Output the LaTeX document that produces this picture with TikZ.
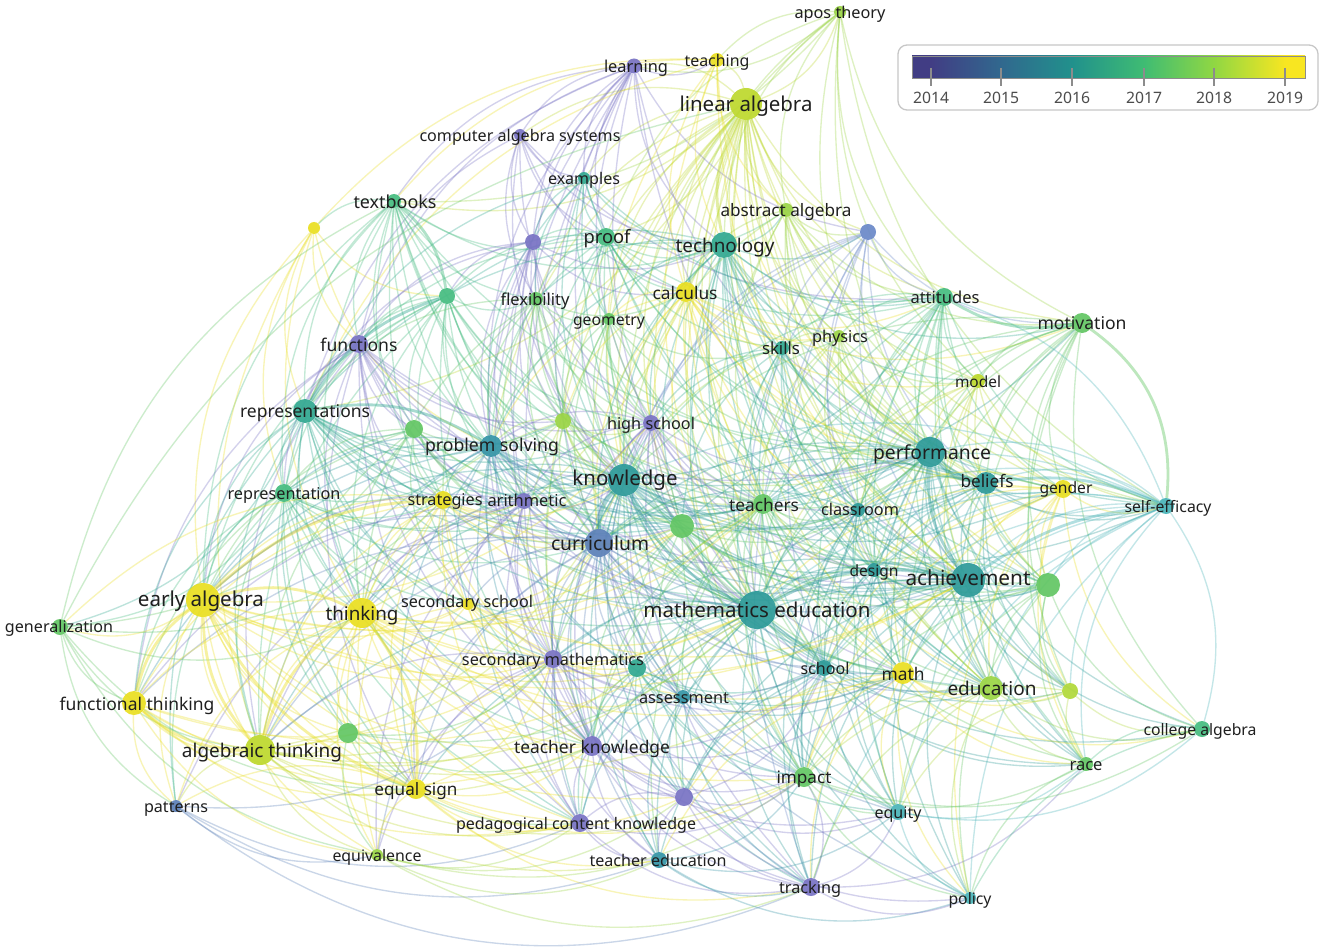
\documentclass[tikz,border=0pt]{standalone}
\usepackage{fontspec}
\setmainfont{Noto Sans}
\usepackage{graphicx}
\definecolor{k14}{HTML}{7872C4}
\definecolor{k15}{HTML}{5B80B8}
\definecolor{kb1}{HTML}{6A88C8}
\definecolor{k16}{HTML}{2C9A98}
\definecolor{k16b}{HTML}{3494A6}
\definecolor{k165}{HTML}{30A890}
\definecolor{k17}{HTML}{45BC80}
\definecolor{k175}{HTML}{62C663}
\definecolor{k18}{HTML}{9AD444}
\definecolor{k185}{HTML}{BDD82C}
\definecolor{k19}{HTML}{EADF20}
\definecolor{kl}{HTML}{B0D838}
\definecolor{kse}{HTML}{48B4B8}
\definecolor{v0}{HTML}{413D84}
\definecolor{v1}{HTML}{31688E}
\definecolor{v2}{HTML}{21918C}
\definecolor{v3}{HTML}{3FBC73}
\definecolor{v4}{HTML}{90D743}
\definecolor{v5}{HTML}{F8E621}
\pgfdeclarehorizontalshading{viridis}{100bp}{color(0bp)=(v0); color(27.4bp)=(v0); color(36.3bp)=(v1); color(45.4bp)=(v2); color(54.5bp)=(v3); color(63.4bp)=(v4); color(72.5bp)=(v5); color(100bp)=(v5)}
\pgfdeclarelayer{bg}\pgfdeclarelayer{edges}\pgfdeclarelayer{dots}
\pgfsetlayers{bg,edges,dots,main}
\tikzset{
  dot/.style={circle,inner sep=0pt,draw=none,fill opacity=0.92},
  lbl/.style={inner sep=0pt,text=black!88},
  lnk/.style={line width=1.35pt,draw opacity=0.32},
  hvy/.style={line width=2.8pt,draw opacity=0.42},
  leglbl/.style={inner sep=0pt,text=black!70},
}
\newcommand\kw[9]{%
  \colorlet{c-#1}{#5}%
  \begin{pgfonlayer}{dots}\node[dot,fill=#5,minimum size=#4pt] (#1) at (#2,#3) {};\end{pgfonlayer}%
  \node[lbl] (#1-l) at (#6,#7+2.5) {\resizebox{#8pt}{!}{\vphantom{Ag}#9}};}
\newcommand\ku[5]{%
  \colorlet{c-#1}{#5}%
  \begin{pgfonlayer}{dots}\node[dot,fill=#5,minimum size=#4pt] (#1) at (#2,#3) {};\end{pgfonlayer}}
\newcommand\links[2]{\foreach \t in {#2}{\draw[lnk,draw=c-#1] (#1) to[bend right=25] (\t);}}
\newcommand\linksL[2]{\foreach \t in {#2}{\draw[lnk,draw=c-#1] (#1) to[bend left=25] (\t);}}
\newcommand\heavy[3]{\draw[hvy,draw=c-#1] (#1) to[#3] (#2);}
\begin{document}
\begin{tikzpicture}[x=1pt,y=-1pt]
\begin{pgfonlayer}{bg}
\fill[white] (0,0) rectangle (1325,952);
\end{pgfonlayer}
\useasboundingbox (0,0) rectangle (1325,952);
% ---------- keywords ----------
\kw{apos}{840}{12}{12}{k18}{840}{12}{91}{apos theory}
\kw{learn}{634}{66}{15}{k14}{636}{66}{64}{learning}
\kw{teach}{717}{60}{14}{k19}{717}{60}{65}{teaching}
\kw{linalg}{746}{104}{32}{k185}{746}{104}{133}{linear algebra}
\kw{cas}{520}{135}{12}{k14}{520}{135}{201}{computer algebra systems}
\kw{examp}{584}{178}{12}{k165}{584}{178}{72}{examples}
\kw{textb}{394}{201}{14}{k17}{395}{201}{83}{textbooks}
\ku{uy1}{314}{228}{12}{k19}
\kw{proof}{606}{237}{18}{k17}{607}{236}{47}{proof}
\ku{up1}{533}{242}{16}{k14}
\kw{tech}{724}{245}{26}{k165}{725}{245}{99}{technology}
\kw{absalg}{786}{210}{14}{k18}{786}{210}{131}{abstract algebra}
\ku{ub1}{868}{232}{16}{kb1}
\ku{ug1}{447}{296}{16}{k17}
\kw{flex}{536}{299}{14}{k175}{535}{299}{69}{flexibility}
\kw{calc}{686}{292}{20}{k19}{685}{292}{65}{calculus}
\kw{geom}{609}{319}{12}{k175}{609}{319}{72}{geometry}
\kw{att}{944}{297}{18}{k17}{945}{297}{69}{attitudes}
\kw{motiv}{1082}{323}{20}{k175}{1082}{323}{89}{motivation}
\kw{func}{359}{344}{18}{k14}{359}{344}{77}{functions}
\kw{phys}{839}{336}{12}{k18}{840}{336}{56}{physics}
\kw{skills}{782}{348}{14}{k165}{781}{348}{38}{skills}
\kw{model}{978}{381}{14}{k185}{978}{381}{46}{model}
\kw{reps}{305}{411}{24}{k165}{305}{411}{130}{representations}
\ku{ug2}{414}{429}{18}{k175}
\ku{ug3}{563}{421}{16}{k18}
\kw{hs}{651}{423}{16}{k14}{651}{423}{88}{high school}
\kw{ps}{491}{446}{22}{k16b}{492}{444}{134}{problem solving}
\kw{know}{624}{480}{32}{k16}{625}{478}{105}{knowledge}
\kw{perf}{930}{452}{30}{k16}{932}{452}{118}{performance}
\kw{beliefs}{986}{483}{22}{k16}{987}{480}{53}{beliefs}
\kw{gender}{1063}{489}{18}{k19}{1066}{487}{53}{gender}
\kw{selfeff}{1166}{506}{16}{kse}{1168}{506}{87}{self-efficacy}
\kw{rep}{284}{493}{18}{k17}{284}{493}{113}{representation}
\kw{strat}{443}{500}{18}{k19}{445}{499}{75}{strategies}
\kw{arith}{524}{501}{16}{k14}{527}{500}{79}{arithmetic}
\ku{ug4}{682}{526}{24}{k175}
\kw{teachers}{763}{504}{20}{k175}{764}{504}{70}{teachers}
\kw{class}{858}{510}{14}{k16}{860}{509}{78}{classroom}
\kw{curr}{599}{543}{28}{k15}{600}{543}{98}{curriculum}
\kw{design}{874}{570}{14}{k16}{874}{570}{49}{design}
\kw{ach}{968}{580}{34}{k16}{968}{578}{125}{achievement}
\ku{ug5}{1048}{585}{24}{k175}
\kw{ea}{203}{600}{34}{k19}{201}{599}{126}{early algebra}
\kw{gen}{60}{627}{16}{k175}{59}{626}{108}{generalization}
\kw{think}{362}{613}{30}{k19}{362}{613}{73}{thinking}
\kw{secsch}{468}{604}{12}{k19}{467}{601}{132}{secondary school}
\kw{mathed}{757}{610}{38}{k16}{757}{610}{227}{mathematics education}
\kw{secmath}{553}{659}{18}{k14}{553}{659}{182}{secondary mathematics}
\ku{ut1}{637}{668}{18}{k165}
\kw{assess}{683}{697}{14}{k16b}{684}{697}{90}{assessment}
\kw{school}{824}{668}{16}{k16}{825}{668}{49}{school}
\kw{math}{903}{673}{22}{k19}{903}{673}{43}{math}
\kw{edu}{991}{688}{24}{k18}{992}{688}{89}{education}
\ku{ul1}{1070}{691}{16}{kl}
\kw{ft}{134}{703}{24}{k19}{137}{703}{155}{functional thinking}
\kw{algth}{260}{750}{30}{k185}{262}{750}{160}{algebraic thinking}
\ku{ug6}{348}{733}{20}{k175}
\kw{tk}{592}{746}{20}{k14}{592}{746}{156}{teacher knowledge}
\kw{calg}{1202}{729}{16}{k17}{1200}{729}{113}{college algebra}
\kw{race}{1086}{764}{14}{k175}{1086}{764}{33}{race}
\kw{impact}{804}{777}{20}{k175}{804}{777}{55}{impact}
\kw{eqs}{416}{789}{20}{k19}{416}{789}{83}{equal sign}
\ku{up2}{684}{797}{18}{k14}
\kw{patt}{176}{806}{12}{k15}{176}{806}{64}{patterns}
\kw{equity}{898}{812}{16}{kse}{898}{812}{47}{equity}
\kw{pck}{580}{823}{18}{k14}{576}{823}{240}{pedagogical content knowledge}
\kw{equiv}{377}{855}{12}{k18}{377}{855}{89}{equivalence}
\kw{tedu}{659}{860}{16}{k16b}{658}{860}{137}{teacher education}
\kw{track}{811}{887}{18}{k14}{810}{887}{62}{tracking}
\kw{policy}{970}{898}{12}{kse}{970}{898}{43}{policy}
% ---------- links ----------
\begin{pgfonlayer}{edges}
\links{linalg}{teach,learn,absalg,calc,apos,examp,cas,phys,skills,att,motiv,perf,know,mathed,ach,beliefs,model,selfeff,edu,curr,teachers,geom,flex,ps,secmath,gender,math,ug4,ug3,ub1,hs,design,school,impact,ul1,ug5}
\linksL{linalg}{textb,reps,think,proof}
\links{apos}{absalg,calc,motiv,model,know,tech,proof,teach,att,perf,ug5,selfeff}
\linksL{apos}{textb,learn}
\links{learn}{cas,func,reps,hs,know,curr,arith,ps,textb,teach,tech,examp,proof,flex,up1,perf,ach,secmath,ub1,mathed,tk}
\links{teach}{textb,uy1,tech,calc,absalg,know,perf,reps,mathed,ach}
\links{cas}{examp,up1,tech,proof,func,calc,know,flex,hs,att}
\links{examp}{proof,tech,up1,know,flex,reps,geom,calc,ps,mathed,ach,att}
\links{textb}{uy1,func,reps,rep,proof,tech,know,curr,ps,mathed,flex,ug2,ea,think,tk,strat,perf,ach,ug4,teachers}
\links{uy1}{func,reps,rep,ea,think,ps,ug1,algth}
\links{proof}{up1,tech,flex,calc,geom,know,ps,reps,ug1,hs,perf,mathed,teachers,ach,curr,att,skills,absalg,ug3,beliefs}
\links{up1}{func,ug1,flex,hs,know,curr,ps,arith,reps,secmath,tech,calc,tk,mathed,ug3}
\links{tech}{calc,absalg,att,skills,phys,perf,know,mathed,ach,motiv,beliefs,teachers,ub1,hs,geom,flex,ps,curr,class,design,model,selfeff,edu,math,ug4,school,impact,gender,ug5,reps,ug1}
\links{absalg}{calc,att,phys,ub1,motiv,perf,know,model,mathed,ach,beliefs,teachers,edu,selfeff}
\links{ub1}{att,perf,skills,motiv,ach,know,mathed,class,hs,design,beliefs,school,track,curr}
\links{ug1}{func,reps,rep,flex,ps,know,ug2,strat,curr,think,ea,arith,ug3,mathed,teachers,hs,tk,algth}
\links{flex}{geom,calc,ps,know,ug3,hs,reps,arith,strat,curr,mathed,think,teachers,ug4,perf}
\links{calc}{geom,phys,skills,att,know,perf,mathed,ach,teachers,hs,ug3,ug4,model,motiv,math,edu,beliefs,gender,class,curr,ps}
\links{geom}{hs,know,ug3,ps,curr,mathed,skills,teachers,ug4,tk,perf,ach}
\links{att}{phys,perf,beliefs,ach,model,skills,selfeff,gender,edu,mathed,ug5,class,teachers,know,math,design,school,race,ul1,equity}
\links{motiv}{perf,beliefs,gender,ach,model,ug5,edu,ul1,mathed,calg,race,know,teachers,math,class,design}
\links{func}{reps,rep,ps,arith,know,curr,hs,ea,ug2,strat,think,secmath,tk,algth,ft,ug3,mathed,perf,ach,eqs,pck}
\links{phys}{skills,perf,model,beliefs,ach,teachers,mathed,know,class,edu,gender}
\links{skills}{perf,know,mathed,teachers,ach,class,design,ug4,hs,school,beliefs,edu,impact}
\links{model}{perf,beliefs,gender,ach,ug5,mathed,edu,selfeff,math,class}
\links{reps}{rep,ug2,ps,strat,know,curr,think,ea,ft,algth,arith,hs,secsch,mathed,secmath,tk,teachers,ug4,perf,ach,eqs,pck,ug6,ug3,patt}
\linksL{reps}{gen}
\links{ug2}{ps,strat,rep,think,ea,know,curr,arith,secsch,algth,ft,ug3,mathed,teachers}
\links{ug3}{hs,ps,know,curr,teachers,ug4,mathed,arith,think,secmath,perf}
\links{hs}{know,curr,ps,arith,ug4,teachers,mathed,secmath,ach,perf,class,design,school,tk,ut1,assess,track,math}
\links{ps}{know,curr,arith,strat,rep,think,ea,secsch,secmath,mathed,teachers,ug4,perf,ach,tk,ut1,assess,pck,algth,ft,eqs,beliefs,class}
\links{know}{curr,perf,ach,mathed,teachers,ug4,beliefs,class,design,secmath,ut1,tk,pck,tedu,assess,school,math,edu,impact,arith,strat,think,ea,algth,rep,selfeff,motiv,gender,ug5,equity,up2,track,att}
\links{perf}{ach,beliefs,gender,selfeff,class,design,teachers,mathed,ug5,edu,math,school,impact,race,ul1,equity,curr,ug4,calg,policy}
\links{beliefs}{ach,gender,selfeff,ug5,edu,mathed,class,design,teachers,math,ul1,race,school,impact,curr}
\links{gender}{ach,selfeff,ug5,edu,math,ul1,race,mathed,design,class,calg,policy,school,impact}
\links{selfeff}{ug5,ach,edu,ul1,race,policy,equity,perf,beliefs,mathed,math,know,teachers,class,att,design,school,track}
\linksL{selfeff}{calg}
\links{rep}{strat,ps,ea,think,ft,algth,arith,secsch,know,curr,ug6,eqs,mathed,tk,patt,secmath,pck}
\linksL{rep}{gen}
\links{strat}{arith,think,ea,secsch,algth,ft,eqs,know,curr,secmath,mathed,ug6,tk,gen,pck,teachers,ug4,equiv}
\links{arith}{curr,secmath,think,ea,algth,eqs,know,secsch,tk,pck,mathed,ug4,patt,equiv,ft,up2}
\links{ug4}{curr,mathed,teachers,ach,class,design,school,math,impact,secmath,ut1,tk,edu,perf,assess,ug5}
\links{teachers}{mathed,ach,class,design,school,math,impact,edu,curr,ut1,assess,tk,ug5,perf,up2,equity,race,tedu,pck}
\links{class}{design,ach,mathed,school,math,edu,impact,ug5,equity,track,curr}
\links{curr}{mathed,secmath,ut1,tk,pck,assess,think,ea,algth,eqs,secsch,ach,school,math,impact,up2,tedu,track,design,class,ft,equiv,edu,equity,policy}
\links{design}{ach,mathed,school,math,edu,impact,ug5,equity}
\links{ach}{mathed,ug5,edu,math,school,impact,equity,race,ul1,calg,policy,track,tk,ut1,secmath,assess,up2}
\links{ug5}{edu,math,ul1,race,calg,impact,equity,mathed,school,policy}
\links{ea}{think,ft,algth,eqs,equiv,patt,secsch,ug6,tk,pck,secmath,mathed,teachers,ach,ug4,up2,hs}
\linksL{ea}{gen}
\links{gen}{ft,algth,think,patt,equiv,eqs,ug2,strat}
\linksL{gen}{linalg,textb}
\links{think}{secsch,ft,algth,ug6,eqs,equiv,secmath,tk,mathed,pck,ut1,assess,teachers,ach,ug4,patt,math,impact}
\links{secsch}{secmath,mathed,tk,algth,eqs,ut1,curr,ach,math}
\links{mathed}{secmath,ut1,assess,school,math,edu,impact,tk,pck,tedu,up2,track,equity,policy,race,ul1,calg,algth,eqs}
\links{secmath}{ut1,tk,pck,assess,tedu,up2,eqs,algth,track,impact,school,math,equiv}
\links{ut1}{assess,tk,up2,pck,tedu,impact,school,math,track,equity}
\links{assess}{tk,up2,pck,tedu,impact,school,track,math}
\links{school}{math,edu,impact,equity,track,policy,up2,race,tedu}
\links{math}{edu,impact,equity,race,ul1,track,policy,calg,up2,tedu}
\links{edu}{ul1,race,calg,impact,equity,policy,track}
\links{ul1}{race,calg,impact,equity}
\links{ft}{algth,eqs,equiv,patt,ug6,tk,pck,secmath,mathed}
\links{algth}{eqs,equiv,patt,ug6,tk,pck,secmath,mathed,know,curr,ach,ut1,tedu,impact}
\links{ug6}{eqs,equiv,tk,pck,secmath,mathed}
\links{tk}{pck,up2,tedu,impact,track,equity,school,math}
\links{eqs}{equiv,pck,tk,up2,tedu,impact,track,secmath,patt}
\links{up2}{track,tedu,impact,pck,equity,school,policy}
\links{patt}{equiv,pck,tedu,secmath}
\draw[lnk,draw=c-patt] (patt) to[bend right=30] (track);
\links{equiv}{pck,tedu,track,impact,up2}
\links{pck}{tedu,track,impact}
\links{tedu}{track,impact,equity,policy}
\links{track}{impact,equity,policy,race}
\links{impact}{equity,policy,race,calg}
\links{equity}{policy,race,calg}
\links{calg}{race,policy}
\links{race}{policy}
% heavy links
\heavy{ea}{algth}{bend right=20}
\heavy{ea}{ft}{bend right=20}
\heavy{ea}{think}{bend left=20}
\heavy{think}{algth}{bend right=20}
\heavy{ft}{algth}{bend right=20}
\heavy{ea}{eqs}{bend right=20}
\heavy{think}{eqs}{bend left=20}
\heavy{ea}{strat}{bend left=20}
\heavy{mathed}{ach}{bend left=20}
\heavy{know}{curr}{bend right=20}
\heavy{know}{mathed}{bend right=20}
\heavy{perf}{ach}{bend right=20}
\heavy{perf}{beliefs}{bend right=20}
\heavy{motiv}{selfeff}{bend left=30}
\heavy{selfeff}{ach}{bend right=15}
\heavy{selfeff}{beliefs}{bend right=15}
\heavy{textb}{ug1}{bend left=20}
\heavy{reps}{ug1}{bend left=20}
\heavy{reps}{ps}{bend left=20}
\heavy{linalg}{tech}{bend right=20}
\heavy{att}{motiv}{bend right=20}
\end{pgfonlayer}
% ---------- legend ----------
\node[draw=black!22,line width=1.3pt,rounded corners=9pt,fill=white,minimum width=420pt,minimum height=65pt,inner sep=0pt] (legend) at (1108,77.5) {};
\shade[shading=viridis,draw=black!45,line width=0.6pt] (912,56) rectangle (1305,78);
\foreach \yr/\xx in {2014/931,2015/1001,2016/1072,2017/1144,2018/1214,2019/1285}{
  \coordinate (t\yr) at (\xx,86);
  \draw[black!45,line width=1.5pt] (\xx,68) -- (t\yr);
  \node[leglbl] (y\yr) at (\xx,98) {\resizebox{36pt}{!}{\vphantom{2}\yr}};
}
\end{tikzpicture}
\end{document}
